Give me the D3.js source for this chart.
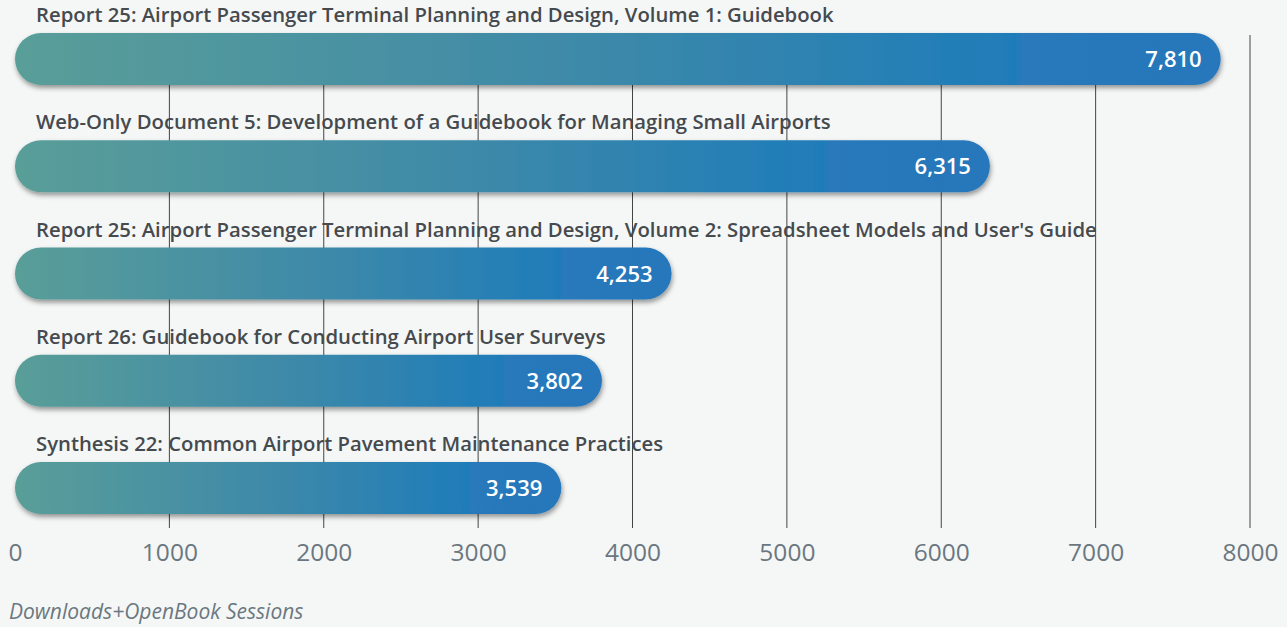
<!DOCTYPE html>
<html>
<head>
    <meta charset="utf-8">
    <title>Top Publications</title>
    <script src="https://d3js.org/d3.v7.min.js"></script>
    <style>
        body {
            margin: 0;
            padding: 0;
            background-color: #f5f7f6;
            font-family: "Open Sans", sans-serif;
        }
        .tick text {
            fill: #6b7780;
            font-size: 24.5px;
            font-family: "Open Sans", sans-serif;
        }
    </style>
</head>
<body>
    <div id="chart"></div>
    <script>
        // Data
        const titles = [
            "Report 25: Airport Passenger Terminal Planning and Design, Volume 1: Guidebook",
            "Web-Only Document 5: Development of a Guidebook for Managing Small Airports",
            "Report 25: Airport Passenger Terminal Planning and Design, Volume 2: Spreadsheet Models and User's Guide",
            "Report 26: Guidebook for Conducting Airport User Surveys",
            "Synthesis 22: Common Airport Pavement Maintenance Practices"
        ];
        const sessions = [7810, 6315, 4253, 3802, 3539];
        const tickValues = [0, 1000, 2000, 3000, 4000, 5000, 6000, 7000, 8000];

        const W = 1287, H = 627;
        const barH = 52;

        const svg = d3.select("#chart")
            .append("svg")
            .attr("width", W)
            .attr("height", H);

        const defs = svg.append("defs");
        const grad = defs.append("linearGradient")
            .attr("id", "barGrad")
            .attr("x1", "0%").attr("x2", "100%")
            .attr("y1", "0%").attr("y2", "0%");
        grad.append("stop").attr("offset", "0%").attr("stop-color", "#5a9e98");
        grad.append("stop").attr("offset", "45%").attr("stop-color", "#3f8aa8");
        grad.append("stop").attr("offset", "83%").attr("stop-color", "#1f7cb9");
        grad.append("stop").attr("offset", "83.5%").attr("stop-color", "#2979ba");
        grad.append("stop").attr("offset", "100%").attr("stop-color", "#2577bb");

        const shadow = defs.append("filter")
            .attr("id", "shadow")
            .attr("x", "-5%").attr("y", "-30%")
            .attr("width", "110%").attr("height", "170%");
        shadow.append("feDropShadow")
            .attr("dx", 1).attr("dy", 3)
            .attr("stdDeviation", 2.5)
            .attr("flood-color", "#000")
            .attr("flood-opacity", 0.4);

        // Scales
        const x = d3.scaleLinear()
            .domain([0, 8000])
            .range([15, 1250]);
        const y = d3.scalePoint()
            .domain(titles)
            .range([59, 488]);

        // Gridlines
        svg.append("g")
            .selectAll("line")
            .data(tickValues.filter(d => d > 0))
            .join("line")
            .attr("x1", d => x(d)).attr("x2", d => x(d))
            .attr("y1", 35).attr("y2", 528)
            .attr("stroke", "#444")
            .attr("stroke-width", 1);

        // X-axis labels
        const axis = svg.append("g")
            .attr("transform", "translate(0,538)")
            .call(d3.axisBottom(x).tickValues(tickValues).tickSize(0).tickPadding(0).tickFormat(d3.format("d")));
        axis.select(".domain").remove();
        axis.selectAll("text").attr("dy", "0.95em");

        // Bars
        svg.append("g")
            .selectAll("rect")
            .data(sessions)
            .join("rect")
            .attr("x", x(0))
            .attr("y", (d, i) => y(titles[i]) - barH / 2)
            .attr("width", d => x(d) - x(0))
            .attr("height", barH)
            .attr("rx", barH / 2)
            .attr("fill", "url(#barGrad)")
            .attr("filter", "url(#shadow)");

        // Value labels
        svg.append("g")
            .selectAll("text")
            .data(sessions)
            .join("text")
            .attr("x", d => x(d) - 19)
            .attr("y", (d, i) => y(titles[i]) + 8)
            .attr("text-anchor", "end")
            .style("font-size", "22px")
            .style("font-weight", "600")
            .style("fill", "#fff")
            .text(d => d3.format(",")(d));

        // Title labels
        svg.append("g")
            .selectAll("text")
            .data(titles)
            .join("text")
            .attr("x", 36)
            .attr("y", d => y(d) - 37)
            .style("font-size", "20.3px")
            .style("font-weight", "600")
            .style("fill", "#454a4e")
            .text(d => d);

        // Caption
        svg.append("text")
            .attr("x", 9)
            .attr("y", 619)
            .style("font-size", "21px")
            .style("font-style", "italic")
            .style("fill", "#6b7780")
            .text("Downloads+OpenBook Sessions");
    </script>
</body>
</html>
